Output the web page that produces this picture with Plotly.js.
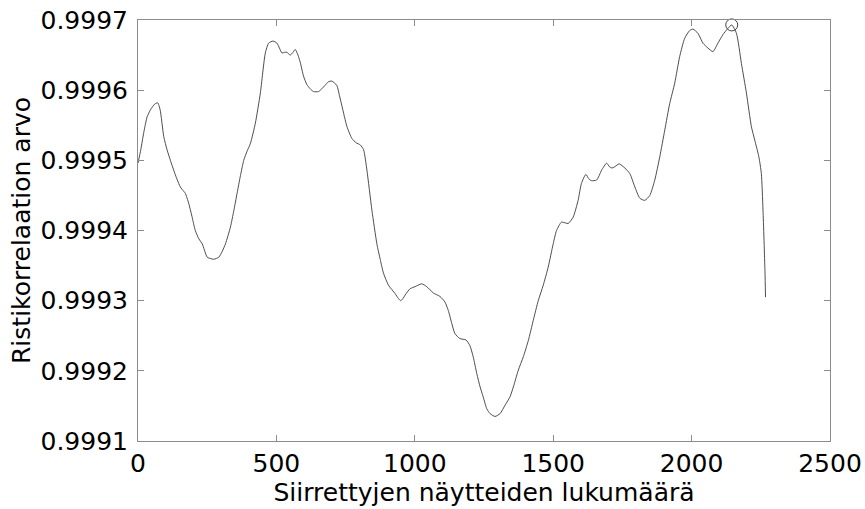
<!DOCTYPE html>
<html>
<head>
<meta charset="utf-8">
<script src="https://cdn.plot.ly/plotly-3.0.1.min.js"></script>
<style>
  html, body { margin: 0; padding: 0; background: #fff; }
  #chart { width: 865px; height: 509px; }
</style>
</head>
<body>
<div id="chart"></div>
<script>
// Shift (number of shifted samples) against cross-correlation value
const shift = [
  0, 10, 21, 33, 45, 60, 71, 80, 93, 105, 117, 129, 141, 153, 165, 171, 183, 195, 207, 220,
  232, 250, 262, 274, 292, 304, 316, 334, 346, 358, 370, 382, 394, 406, 424, 442, 460, 472, 488, 502,
  511, 520, 530, 538, 550, 560, 568, 578, 586, 598, 610, 622, 634, 652, 664, 676, 688, 700, 718, 728,
  737, 755, 773, 788, 803, 815, 827, 845, 863, 875, 887, 905, 929, 941, 949, 957, 965, 983, 1001, 1025,
  1043, 1067, 1091, 1109, 1121, 1134, 1145, 1163, 1185, 1199, 1211, 1224, 1236, 1247, 1260, 1272, 1290, 1308, 1326, 1344,
  1356, 1374, 1392, 1410, 1428, 1446, 1464, 1482, 1500, 1512, 1530, 1542, 1554, 1572, 1590, 1602, 1618, 1628, 1638, 1657,
  1675, 1693, 1703, 1712, 1723, 1738, 1759, 1777, 1795, 1813, 1831, 1849, 1867, 1885, 1903, 1921, 1939, 1957, 1975, 1993,
  2005, 2023, 2041, 2059, 2077, 2095, 2113, 2131, 2145, 2162, 2180, 2198, 2216, 2228, 2243, 2252, 2258, 2265, 2267
];
const correlation = [
  0.999496, 0.999515, 0.999540, 0.999562, 0.999572, 0.999580, 0.999582, 0.999572, 0.999534, 0.999515,
  0.999500, 0.999486, 0.999473, 0.999462, 0.999456, 0.999453, 0.999439, 0.999420, 0.999400, 0.999388,
  0.999381, 0.999362, 0.999360, 0.999359, 0.999362, 0.999370, 0.999381, 0.999405, 0.999428, 0.999453,
  0.999478, 0.999500, 0.999513, 0.999524, 0.999553, 0.999596, 0.999653, 0.999667, 0.999670, 0.999667,
  0.999660, 0.999653, 0.999654, 0.999654, 0.999650, 0.999654, 0.999658, 0.999650, 0.999640, 0.999620,
  0.999608, 0.999602, 0.999598, 0.999598, 0.999602, 0.999607, 0.999612, 0.999613, 0.999607, 0.999592,
  0.999577, 0.999548, 0.999531, 0.999525, 0.999522, 0.999515, 0.999486, 0.999429, 0.999381, 0.999359,
  0.999339, 0.999322, 0.999310, 0.999303, 0.999300, 0.999303, 0.999308, 0.999317, 0.999320, 0.999324,
  0.999320, 0.999311, 0.999306, 0.999298, 0.999286, 0.999267, 0.999253, 0.999246, 0.999244, 0.999236,
  0.999220, 0.999196, 0.999177, 0.999163, 0.999146, 0.999139, 0.999135, 0.999139, 0.999151, 0.999163,
  0.999177, 0.999201, 0.999220, 0.999243, 0.999272, 0.999300, 0.999322, 0.999348, 0.999381, 0.999400,
  0.999412, 0.999411, 0.999410, 0.999419, 0.999443, 0.999467, 0.999480, 0.999474, 0.999471, 0.999472,
  0.999486, 0.999496, 0.999491, 0.999489, 0.999491, 0.999495, 0.999489, 0.999481, 0.999462, 0.999446,
  0.999443, 0.999450, 0.999472, 0.999505, 0.999543, 0.999581, 0.999610, 0.999648, 0.999674, 0.999685,
  0.999687, 0.999681, 0.999667, 0.999660, 0.999655, 0.999667, 0.999679, 0.999688, 0.999693, 0.999681,
  0.999638, 0.999596, 0.999548, 0.999529, 0.999505, 0.999481, 0.999429, 0.999343, 0.999305
];

// Maximum of the correlation, marked with a ring
const peakShift = [2145];
const peakCorrelation = [0.999693];

const xTicks = [0, 500, 1000, 1500, 2000, 2500];
const yTicks = [0.9991, 0.9992, 0.9993, 0.9994, 0.9995, 0.9996, 0.9997];
const yTickText = ['0.9991', '0.9992', '0.9993', '0.9994', '0.9995', '0.9996', '0.9997'];

const font = { family: 'DejaVu Sans, sans-serif', size: 25, color: '#000' };

const traces = [
  {
    x: shift, y: correlation, type: 'scatter', mode: 'lines',
    line: { color: '#3a3a3a', width: 0.9, shape: 'spline', smoothing: 0.6 },
    hoverinfo: 'skip', showlegend: false
  },
  {
    x: peakShift, y: peakCorrelation, type: 'scatter', mode: 'markers',
    marker: { symbol: 'circle-open', size: 12, color: '#444', line: { width: 1, color: '#444' } },
    hoverinfo: 'skip', showlegend: false, cliponaxis: false
  }
];

const axisCommon = {
  showgrid: false, zeroline: false,
  showline: true, linecolor: '#8c8c8c', linewidth: 1, mirror: 'ticks',
  ticks: 'inside', ticklen: 6, tickcolor: '#8c8c8c', tickwidth: 1,
  tickfont: font
};

const layout = {
  width: 865, height: 509,
  margin: { l: 138, r: 35, t: 20, b: 68 },
  paper_bgcolor: '#fff', plot_bgcolor: '#fff',
  font: font,
  xaxis: Object.assign({}, axisCommon, {
    range: [0, 2500], tickvals: xTicks, ticktext: xTicks.map(String),
    ticklabelstandoff: 0,
    title: { text: 'Siirrettyjen näytteiden lukumäärä', font: font, standoff: 4 }
  }),
  yaxis: Object.assign({}, axisCommon, {
    range: [0.9991, 0.9997], tickvals: yTicks, ticktext: yTickText,
    ticklabelstandoff: 4,
    title: { text: 'Ristikorrelaation arvo', font: font, standoff: 2 }
  })
};

Plotly.newPlot('chart', traces, layout, { staticPlot: true, displayModeBar: false });
</script>
</body>
</html>
